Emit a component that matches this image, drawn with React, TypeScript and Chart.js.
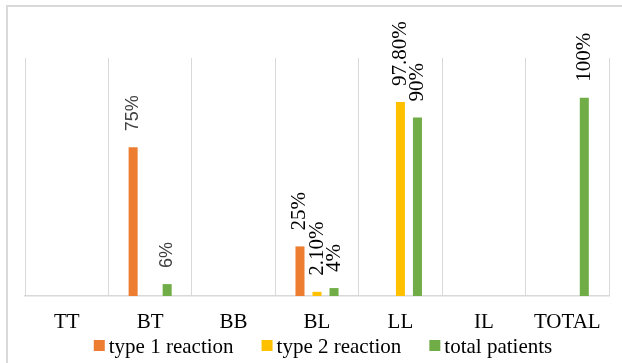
import React, { useEffect, useRef } from "react";
import { Chart, registerables } from "chart.js";

Chart.register(...registerables);

const categories = ["TT", "BT", "BB", "BL", "LL", "IL", "TOTAL"];
const type1Values = [null, 75, null, 25, null, null, null];
const type2Values = [null, null, null, 2.1, 97.8, null, null];
const totalValues = [null, 6, null, 4, 90, null, 100];
const type1Labels = [null, "75%", null, "25%", null, null, null];
const type2Labels = [null, null, null, "2.10%", "97.80%", null, null];
const totalLabels = [null, "6%", null, "4%", "90%", null, "100%"];
const seriesNames = ["type 1 reaction", "type 2 reaction", "total patients"];
const seriesColors = ["#ED7D31", "#FFC000", "#70AD47"];
const sansLabelCategories = ["BT"];
const yMin = 0;
const yMax = 120;

const SERIF = '"Liberation Serif", "Times New Roman", serif';
const SANS = '"Liberation Sans", Arial, sans-serif';

const valueLabelPlugin = {
  id: "valueLabels",
  afterDatasetsDraw(chart: any) {
    const ctx = chart.ctx;
    const labelSets = [type1Labels, type2Labels, totalLabels];
    chart.data.datasets.forEach((ds: any, di: number) => {
      const meta = chart.getDatasetMeta(di);
      meta.data.forEach((el: any, i: number) => {
        const text = labelSets[di][i];
        if (text == null || ds.data[i] == null) return;
        const sans = sansLabelCategories.includes(categories[i]);
        ctx.save();
        ctx.translate(el.x, el.y - 16);
        ctx.rotate(-Math.PI / 2);
        ctx.font = sans ? `18px ${SANS}` : `21px ${SERIF}`;
        ctx.fillStyle = sans ? "#404040" : "#000";
        ctx.textAlign = "left";
        ctx.textBaseline = "middle";
        ctx.fillText(text, 0, 0);
        ctx.restore();
      });
    });
  },
};

const legendPlugin = {
  id: "customLegend",
  afterDraw(chart: any) {
    const ctx = chart.ctx;
    ctx.save();
    ctx.font = `21px ${SERIF}`;
    const box = 11;
    const gapText = 4;
    const gapItem = 28;
    const widths = seriesNames.map((n) => ctx.measureText(n).width);
    const total =
      widths.reduce((a, b) => a + b, 0) +
      seriesNames.length * (box + gapText) +
      (seriesNames.length - 1) * gapItem;
    let x = 323 - total / 2;
    const baseline = 353;
    seriesNames.forEach((name, i) => {
      ctx.fillStyle = seriesColors[i];
      ctx.fillRect(x, 340, box, box);
      x += box + gapText;
      ctx.fillStyle = "#000";
      ctx.textBaseline = "alphabetic";
      ctx.textAlign = "left";
      ctx.fillText(name, x, baseline);
      x += widths[i] + gapItem;
    });
    ctx.restore();
  },
};

export default function App() {
  const canvasRef = useRef<HTMLCanvasElement | null>(null);

  useEffect(() => {
    if (!canvasRef.current) return;
    const seriesValues = [type1Values, type2Values, totalValues];
    const chart = new Chart(canvasRef.current, {
      type: "bar",
      data: {
        labels: categories,
        datasets: seriesNames.map((name, i) => ({
          label: name,
          data: seriesValues[i],
          backgroundColor: seriesColors[i],
          borderWidth: 0,
          categoryPercentage: 0.612,
          barPercentage: 0.53,
        })),
      },
      options: {
        responsive: false,
        animation: false,
        events: [],
        layout: { padding: { left: 25, right: 13, top: 58, bottom: 0 } },
        plugins: {
          legend: { display: false },
          tooltip: { enabled: false },
          title: { display: false },
        },
        scales: {
          x: {
            grid: { color: "#d9d9d9", lineWidth: 1, drawTicks: false, offset: true },
            border: { color: "#d9d9d9", width: 1.5 },
            ticks: {
              color: "#000",
              font: { family: SERIF, size: 21 },
              padding: 14,
              maxRotation: 0,
              autoSkip: false,
            },
            afterFit: (scale: any) => {
              scale.height = 67;
            },
          },
          y: { display: false, min: yMin, max: yMax },
        },
      },
      plugins: [valueLabelPlugin, legendPlugin],
    });
    return () => chart.destroy();
  }, []);

  return (
    <div
      style={{
        position: "fixed",
        left: 0,
        top: 0,
        width: 622,
        height: 363,
        overflow: "hidden",
        background: "#fff",
      }}
    >
      <div
        style={{
          position: "absolute",
          left: 6,
          top: 5,
          width: 700,
          height: 500,
          border: "2px solid #d9d9d9",
          boxSizing: "border-box",
        }}
      />
      <canvas
        ref={canvasRef}
        width={622}
        height={363}
        style={{ position: "absolute", left: 0, top: 0, display: "block" }}
      />
    </div>
  );
}
